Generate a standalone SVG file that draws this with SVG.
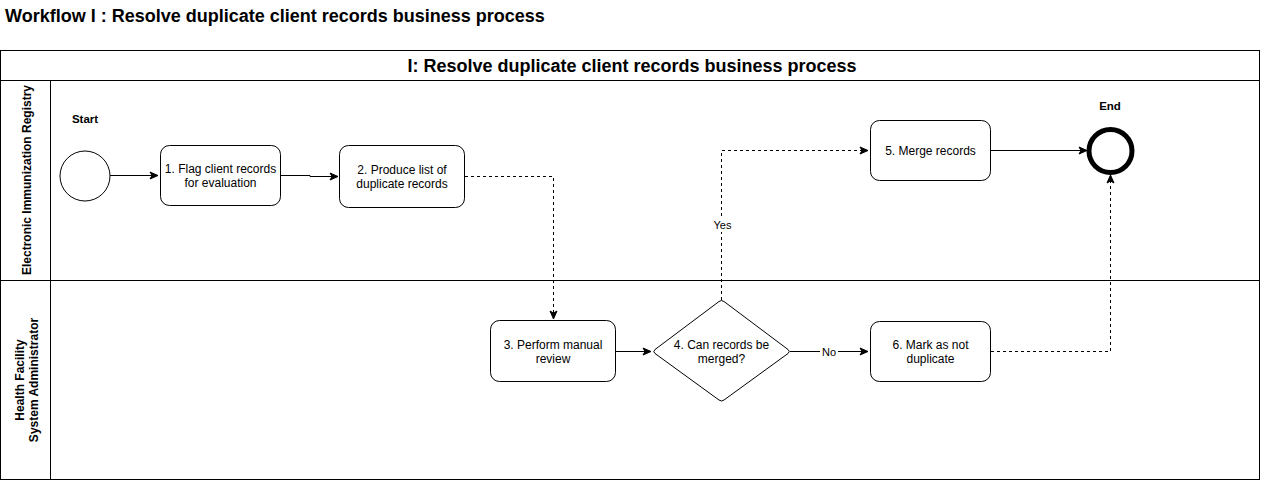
<svg xmlns="http://www.w3.org/2000/svg" width="1261" height="481" viewBox="0 0 1261 481">
<defs>
<style>
.t{font-family:"Liberation Sans",Arial,Helvetica,sans-serif;font-size:12px;fill:#000;text-anchor:middle}
.b{font-weight:bold}
.box{fill:#fff;stroke:#000;stroke-width:1}
.ln{fill:none;stroke:#000;stroke-width:1}
.ds{stroke-dasharray:3,3}
</style>
<marker id="ar" viewBox="0 0 10 10" refX="9" refY="5" markerWidth="10" markerHeight="10" markerUnits="userSpaceOnUse" orient="auto">
<path d="M1,1.5 L9,5 L1,8.5 L3,5 Z" fill="#000" stroke="#000" stroke-width="1"/>
</marker>
</defs>
<rect width="1261" height="481" fill="#fff"/>
<text x="5" y="22" class="t b" style="font-size:18px;text-anchor:start">Workflow I : Resolve duplicate client records business process</text>
<g id="pool">
<rect x="0.5" y="50.5" width="1259" height="429" fill="none" stroke="#000" stroke-width="1"/>
<line x1="0.5" y1="80.5" x2="1259.5" y2="80.5" stroke="#000"/>
<line x1="0.5" y1="280.5" x2="1259.5" y2="280.5" stroke="#000"/>
<line x1="50.5" y1="80.5" x2="50.5" y2="479.5" stroke="#000"/>
<text x="632" y="72" class="t b" style="font-size:18px">I: Resolve duplicate client records business process</text>
</g>
<g id="lane1">
<text class="t b" transform="translate(31,180) rotate(-90)">Electronic Immunization Registry</text>
</g>
<g id="lane2">
<text class="t b" transform="translate(24,380) rotate(-90)">Health Facility</text>
<text class="t b" transform="translate(38,380) rotate(-90)">System Administrator</text>
</g>
<g id="connectors">
<path class="ln" d="M110,175.5 H158" marker-end="url(#ar)"/>
<path class="ln" d="M280,175.5 H310 V176.5 H338" marker-end="url(#ar)"/>
<path class="ln ds" d="M465,176.5 H553.5 V319" marker-end="url(#ar)"/>
<path class="ln" d="M616,351.5 H651" marker-end="url(#ar)"/>
<path class="ln ds" d="M721.5,300 V150.5 H868" marker-end="url(#ar)"/>
<path class="ln" d="M790,351.5 H868" marker-end="url(#ar)"/>
<path class="ln" d="M991,150.5 H1087" marker-end="url(#ar)"/>
<path class="ln ds" d="M991,351.5 H1110.5 V175" marker-end="url(#ar)"/>
<rect x="710" y="218" width="24" height="14" fill="#fff"/>
<text x="722.5" y="229" class="t" style="font-size:11px">Yes</text>
<rect x="820" y="345" width="18" height="14" fill="#fff"/>
<text x="829" y="356" class="t" style="font-size:11px">No</text>
</g>
<g id="start">
<circle cx="85" cy="176" r="25" class="box"/>
<text x="85" y="123" class="t b" style="font-size:11.5px">Start</text>
</g>
<g id="n1">
<rect x="160.5" y="145.5" width="120" height="60" rx="9" class="box"/>
<text x="220.5" y="173" class="t">1. Flag client records</text>
<text x="220.5" y="187" class="t">for evaluation</text>
</g>
<g id="n2">
<rect x="339.5" y="145.5" width="125" height="62" rx="9" class="box"/>
<text x="402" y="174" class="t">2. Produce list of</text>
<text x="402" y="188" class="t">duplicate records</text>
</g>
<g id="n3">
<rect x="490.5" y="320.5" width="125" height="61" rx="9" class="box"/>
<text x="553" y="349" class="t">3. Perform manual</text>
<text x="553" y="363" class="t">review</text>
</g>
<g id="n4">
<path d="M719,301.5 Q721.5,299.5 724,301.5 L788,349.5 Q790.5,351.5 788,353.5 L724,400 Q721.5,402 719,400 L655,353.5 Q652.5,351.5 655,349.5 Z" class="box"/>
<text x="721.5" y="349" class="t">4. Can records be</text>
<text x="721.5" y="363" class="t">merged?</text>
</g>
<g id="n5">
<rect x="870.5" y="120.5" width="120" height="60" rx="9" class="box"/>
<text x="930.5" y="155" class="t">5. Merge records</text>
</g>
<g id="n6">
<rect x="870.5" y="321.5" width="120" height="60" rx="9" class="box"/>
<text x="930.5" y="349" class="t">6. Mark as not</text>
<text x="930.5" y="363" class="t">duplicate</text>
</g>
<g id="end">
<circle cx="1110.5" cy="151" r="21.5" fill="#fff" stroke="#000" stroke-width="5"/>
<text x="1110" y="110" class="t b" style="font-size:11.5px">End</text>
</g>
</svg>
